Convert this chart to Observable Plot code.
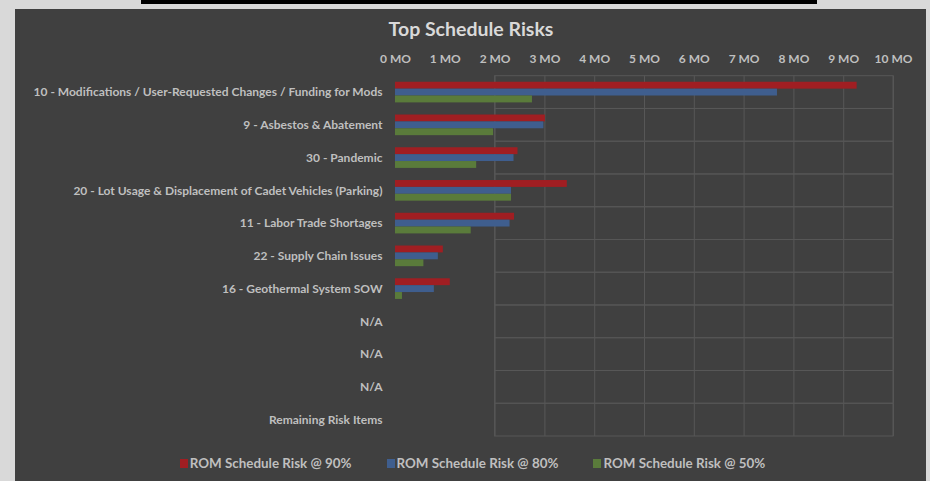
<!DOCTYPE html>
<html><head><meta charset="utf-8">
<script src="https://cdn.jsdelivr.net/npm/d3@7"></script>
<script src="https://cdn.jsdelivr.net/npm/@observablehq/plot@0.6"></script>
<style>
html,body{margin:0;padding:0;background:#d9d9d9;width:930px;height:481px;overflow:hidden;}
#topbar{position:absolute;left:141px;top:0;width:676px;height:4px;background:#000;}
#panel{position:absolute;left:15px;top:9px;width:911px;height:472px;background:#404040;font-family:Lato,'Open Sans',sans-serif;}
#title{position:absolute;left:0;width:911px;top:9px;text-align:center;color:#d9d9d9;font-weight:bold;font-size:19.5px;line-height:22px;padding-left:1px;box-sizing:border-box;}
#chart{position:absolute;left:0;top:31px;}
#legend{position:absolute;left:0;width:911px;top:445px;display:flex;justify-content:center;gap:35px;color:#bfbfbf;font-weight:bold;font-size:13.4px;line-height:18px;padding-left:4px;box-sizing:border-box;}
.item{display:flex;align-items:center;}
.sw{width:8px;height:9px;margin-right:2px;}
</style></head>
<body>
<div id="topbar"></div>
<div id="panel">
  <div id="title">Top Schedule Risks</div>
  <div id="chart"></div>
  <div id="legend"></div>
</div>
<script>
const categories = [
  "10 - Modifications / User-Requested Changes / Funding for Mods",
  "9 - Asbestos & Abatement",
  "30 - Pandemic",
  "20 - Lot Usage & Displacement of Cadet Vehicles (Parking)",
  "11 - Labor Trade Shortages",
  "22 - Supply Chain Issues",
  "16 - Geothermal System SOW",
  "N/A",
  "N/A",
  "N/A",
  "Remaining Risk Items"
];
const series = ["ROM Schedule Risk @ 90%", "ROM Schedule Risk @ 80%", "ROM Schedule Risk @ 50%"];
const risk90 = [9.27, 3.01, 2.46, 3.45, 2.39, 0.96, 1.10, null, null, null, null];
const risk80 = [7.67, 2.98, 2.38, 2.33, 2.30, 0.86, 0.78, null, null, null, null];
const risk50 = [2.75, 1.97, 1.63, 2.33, 1.52, 0.57, 0.14, null, null, null, null];
const xTicks = [0, 1, 2, 3, 4, 5, 6, 7, 8, 9, 10];
const colors = ["#a01e22", "#3f5e8e", "#5a7b3b"];
const gridColor = "#575757";
const font = "Lato,'Open Sans',sans-serif";

const values = [risk90, risk80, risk50];
const rows = [];
categories.forEach((c, i) => {
  series.forEach((s, k) => {
    rows.push({cat: i, series: s, value: values[k][i]});
  });
});
const gridTicks = xTicks.slice(2);

const chart = Plot.plot({
  width: 911,
  height: 405,
  marginLeft: 380,
  marginRight: 33,
  marginTop: 35.7,
  marginBottom: 9,
  style: {background: "transparent", color: "#bfbfbf", fontFamily: font, fontSize: "12px", fontWeight: "bold"},
  facet: {data: rows, y: "cat", marginTop: 0, marginRight: 0, marginBottom: 0, marginLeft: 0},
  fy: {domain: d3.range(categories.length), padding: 0, round: false, axis: "left", label: null, tickSize: 0, tickPadding: 13, tickFormat: i => categories[i]},
  x: {domain: [xTicks[0], xTicks[xTicks.length - 1]], axis: "top", ticks: xTicks, tickFormat: d => `${d} MO`, tickSize: 0, tickPadding: 13, label: null},
  y: {domain: series, axis: null, paddingInner: 0, paddingOuter: 0.88, round: false},
  color: {domain: series, range: colors},
  marks: [
    Plot.ruleX(gridTicks, {stroke: gridColor, strokeWidth: 1}),
    Plot.rect([{}], {x1: gridTicks[0], x2: gridTicks[gridTicks.length - 1], stroke: gridColor, fill: "none"}),
    Plot.barX(rows, {x: "value", y: "series", fill: "series"})
  ]
});
document.getElementById("chart").appendChild(chart);

const legend = document.getElementById("legend");
series.forEach((s, k) => {
  const it = document.createElement("div");
  it.className = "item";
  const sw = document.createElement("span");
  sw.className = "sw";
  sw.style.background = colors[k];
  const t = document.createElement("span");
  t.textContent = s;
  it.appendChild(sw); it.appendChild(t);
  legend.appendChild(it);
});
</script>
</body></html>
